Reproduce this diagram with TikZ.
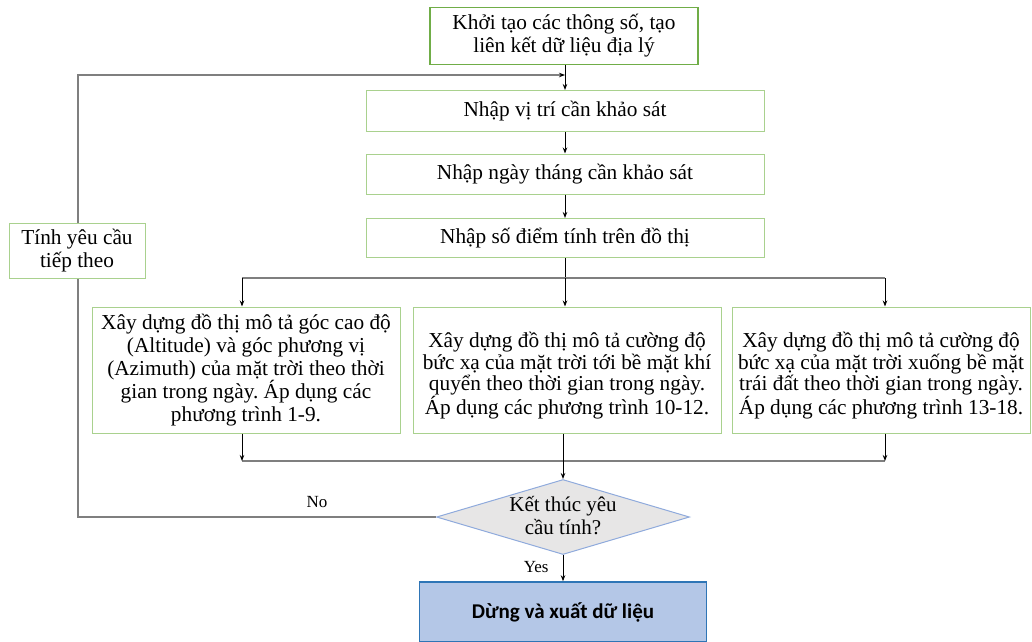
\documentclass[tikz,border=0pt]{standalone}
\usepackage{fontspec}
\setmainfont{Liberation Serif}
\newfontfamily\tnr{Liberation Serif}
\newfontfamily\calib{Carlito}
\usetikzlibrary{shapes.geometric,arrows.meta}
\definecolor{boxgreen}{HTML}{A9D18E}
\definecolor{topgreen}{HTML}{70AD47}
\definecolor{linegray}{HTML}{7F7F7F}
\definecolor{dfill}{HTML}{E7E6E6}
\definecolor{ddraw}{HTML}{8FAADC}
\definecolor{efill}{HTML}{B4C7E7}
\definecolor{edraw}{HTML}{2E75B6}
\frenchspacing
\begin{document}
\begin{tikzpicture}[x=1pt,y=-1pt,
  box/.style={draw=boxgreen, line width=1pt, fill=white, align=center, inner sep=0pt,
    font=\tnr\fontsize{21.3}{23}\selectfont},
  wbox/.style={box, font=\tnr\fontsize{21.3}{21.5}\selectfont, text depth=4pt},
  topbox/.style={box, draw=topgreen, line width=1.6pt},
  arr/.style={draw=black, line width=0.9pt, -{Stealth[length=6pt,width=4.5pt]}},
  garr/.style={draw=linegray, line width=1.5pt, -{Stealth[length=6pt,width=4.5pt,color=black]}},
  gline/.style={draw=linegray, line width=1.5pt},
  lab/.style={font=\tnr\fontsize{17}{19}\selectfont, inner sep=0pt}]
\useasboundingbox (0,0) rectangle (1032,641);

\node[topbox, minimum width=268pt, minimum height=57pt] (top) at (564,36) {Khởi tạo các thông số, tạo\\liên kết dữ liệu địa lý};
\node[box, minimum width=398pt, minimum height=41pt] (n1) at (565,111) {Nhập vị trí cần khảo sát};
\node[box, minimum width=398pt, minimum height=40pt] (n2) at (565,174) {Nhập ngày tháng cần khảo sát};
\node[box, minimum width=398pt, minimum height=39pt] (n3) at (565,238) {Nhập số điểm tính trên đồ thị};
\node[box, minimum width=136pt, minimum height=55pt] (left) at (77,251) {Tính yêu cầu\\tiếp theo};

\node[box, minimum width=308pt, minimum height=126pt] (A) at (246,370) {Xây dựng đồ thị mô tả góc cao độ\\(Altitude) và góc phương vị\\(Azimuth) của mặt trời theo thời\\gian trong ngày. Áp dụng các\\phương trình 1-9.};
\node[wbox, minimum width=308pt, minimum height=126pt] (B) at (567,370) {\rule{0pt}{26pt}Xây dựng đồ thị mô tả cường độ\\bức xạ của mặt trời tới bề mặt khí\\quyển theo thời gian trong ngày.\\Áp dụng các phương trình 10-12.};
\node[wbox, minimum width=298pt, minimum height=126pt] (C) at (881,370) {\rule{0pt}{26pt}Xây dựng đồ thị mô tả cường độ\\bức xạ của mặt trời xuống bề mặt\\trái đất theo thời gian trong ngày.\\Áp dụng các phương trình 13-18.};

\node[diamond, draw=ddraw, fill=dfill, line width=1pt, minimum width=253pt, minimum height=75pt, inner sep=0pt,
  label={[align=center, font=\tnr\fontsize{21}{23}\selectfont, yshift=1pt]center:Kết thúc yêu\\cầu tính?}] (D) at (563,517) {};

\node[draw=edraw, fill=efill, line width=1.6pt, minimum width=287pt, minimum height=60pt, inner sep=0pt,
  font=\calib\bfseries\fontsize{21}{23}\selectfont] (E) at (563,612) {Dừng và xuất dữ liệu};

% coordinates
\coordinate (jt) at (565,75);
\coordinate (sp) at (565,278);
\coordinate (bl) at (242,278);
\coordinate (br) at (885,278);
\coordinate (ml) at (242,461);
\coordinate (mr) at (885,461);
\coordinate (lb) at (78,517);
\coordinate (lt) at (78,75);

% main chain
\draw[arr] (top.south -| jt) -- (n1.north -| jt);
\draw[arr] (n1.south -| jt) -- (n2.north -| jt);
\draw[arr] (n2.south -| jt) -- (n3.north -| jt);
\draw[draw=black, line width=1pt] (n3.south -| sp) -- (sp);
\draw[gline] (bl) -- (br);
\draw[arr] (bl) -- (bl |- A.north);
\draw[arr] (sp) -- (sp |- B.north);
\draw[arr] (br) -- (br |- C.north);

% merge
\draw[gline] (ml) -- (mr);
\draw[arr] (ml |- A.south) -- (ml);
\draw[arr] (mr |- C.south) -- (mr);
\draw[arr] (B.south -| D.north) -- (D.north);

% yes
\draw[arr] (D.south) -- node[lab, left=14pt, pos=0.45] (yes) {Yes} (E.north);

% no loop
\draw[gline] (D.west) -- (lb) -- (left.south -| lb);
\draw[garr] (left.north -| lt) -- (lt) -- (jt);
\node[lab] (no) at (317,502) {No};
\end{tikzpicture}
\end{document}
